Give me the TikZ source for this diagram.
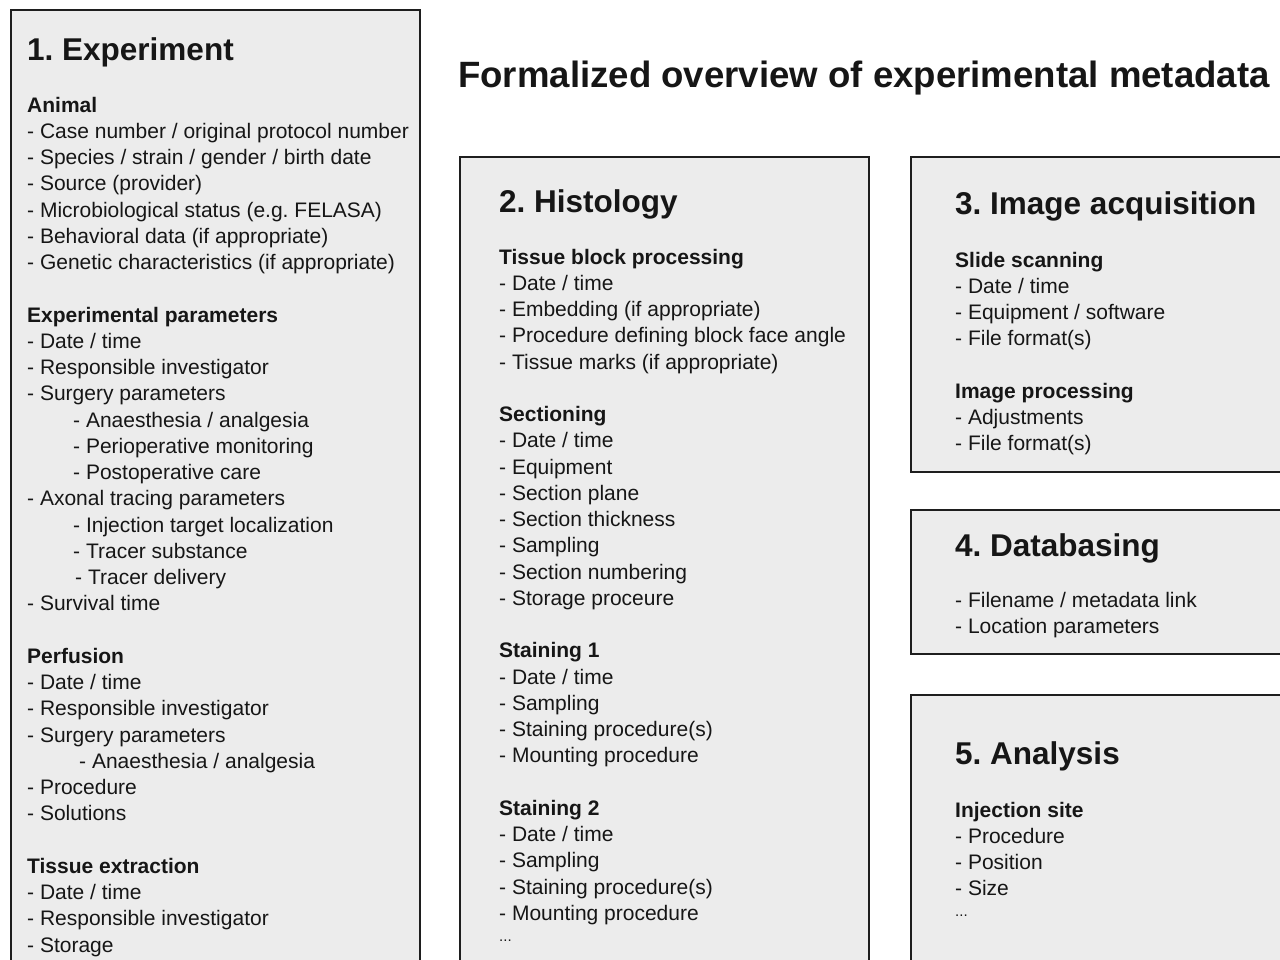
\documentclass[tikz,border=0pt]{standalone}
\usepackage{fontspec}
\setmainfont{Liberation Sans}
\frenchspacing
\definecolor{panelfill}{RGB}{236,236,236}
\definecolor{linecol}{RGB}{30,30,30}
\definecolor{textcol}{RGB}{22,22,22}
\tikzset{
  panel/.style={draw=linecol, line width=2.6pt, fill=panelfill},
  txt/.style={anchor=base west, inner sep=0pt, text=textcol, font=\fontsize{21}{25}\selectfont},
  head/.style={txt, font=\fontsize{21}{25}\selectfont\bfseries},
  ptitle/.style={txt, font=\fontsize{31.5}{36}\selectfont\bfseries},
  bigtitle/.style={txt, font=\fontsize{36.6}{40}\selectfont\bfseries},
  dots/.style={txt, font=\fontsize{15}{18}\selectfont},
}
\begin{document}
\begin{tikzpicture}[x=1pt,y=-1pt]
\useasboundingbox (0,0) rectangle (1280,959);
\clip (0,0) rectangle (1280,959);
\fill[white] (0,0) rectangle (1280,959);

% panels
\draw[panel] (11,10) rectangle (420,990);
\draw[panel] (460,157) rectangle (869,990);
\draw[panel] (911,157) rectangle (1300,472);
\draw[panel] (911,510) rectangle (1300,654);
\draw[panel] (911,695) rectangle (1300,990);

% main title
\node[bigtitle] (maintitle) at (458,87) {Formalized overview of experimental metadata};

% panel titles
\node[ptitle] (t1) at (27,60) {1. Experiment};
\node[ptitle] (t2) at (499,212) {2. Histology};
\node[ptitle] (t3) at (955,214) {3. Image acquisition};
\node[ptitle] (t4) at (955,556) {4. Databasing};
\node[ptitle] (t5) at (955,764) {5. Analysis};

% panel 1
\begin{scope}[shift={(27,112)}, y=-26.25pt]
\node[head] (a0) at (0,0) {Animal};
\node[txt] (a1) at (0,1) {- Case number / original protocol number};
\node[txt] (a2) at (0,2) {- Species / strain / gender / birth date};
\node[txt] (a3) at (0,3) {- Source (provider)};
\node[txt] (a4) at (0,4) {- Microbiological status (e.g. FELASA)};
\node[txt] (a5) at (0,5) {- Behavioral data (if appropriate)};
\node[txt] (a6) at (0,6) {- Genetic characteristics (if appropriate)};
\node[head] (a8) at (0,8) {Experimental parameters};
\node[txt] (a9) at (0,9) {- Date / time};
\node[txt] (a10) at (0,10) {- Responsible investigator};
\node[txt] (a11) at (0,11) {- Surgery parameters};
\node[txt] (a12) at (46,12) {- Anaesthesia / analgesia};
\node[txt] (a13) at (46,13) {- Perioperative monitoring};
\node[txt] (a14) at (46,14) {- Postoperative care};
\node[txt] (a15) at (0,15) {- Axonal tracing parameters};
\node[txt] (a16) at (46,16) {- Injection target localization};
\node[txt] (a17) at (46,17) {- Tracer substance};
\node[txt] (a18) at (48,18) {- Tracer delivery};
\node[txt] (a19) at (0,19) {- Survival time};
\node[head] (a21) at (0,21) {Perfusion};
\node[txt] (a22) at (0,22) {- Date / time};
\node[txt] (a23) at (0,23) {- Responsible investigator};
\node[txt] (a24) at (0,24) {- Surgery parameters};
\node[txt] (a25) at (52,25) {- Anaesthesia / analgesia};
\node[txt] (a26) at (0,26) {- Procedure};
\node[txt] (a27) at (0,27) {- Solutions};
\node[head] (a29) at (0,29) {Tissue extraction};
\node[txt] (a30) at (0,30) {- Date / time};
\node[txt] (a31) at (0,31) {- Responsible investigator};
\node[txt] (a32) at (0,32) {- Storage};
\end{scope}

% panel 2
\begin{scope}[shift={(499,264)}, y=-26.25pt]
\node[head] (b0) at (0,0) {Tissue block processing};
\node[txt] (b1) at (0,1) {- Date / time};
\node[txt] (b2) at (0,2) {- Embedding (if appropriate)};
\node[txt] (b3) at (0,3) {- Procedure defining block face angle};
\node[txt] (b4) at (0,4) {- Tissue marks (if appropriate)};
\node[head] (b6) at (0,6) {Sectioning};
\node[txt] (b7) at (0,7) {- Date / time};
\node[txt] (b8) at (0,8) {- Equipment};
\node[txt] (b9) at (0,9) {- Section plane};
\node[txt] (b10) at (0,10) {- Section thickness};
\node[txt] (b11) at (0,11) {- Sampling};
\node[txt] (b12) at (0,12) {- Section numbering};
\node[txt] (b13) at (0,13) {- Storage proceure};
\node[head] (b15) at (0,15) {Staining 1};
\node[txt] (b16) at (0,16) {- Date / time};
\node[txt] (b17) at (0,17) {- Sampling};
\node[txt] (b18) at (0,18) {- Staining procedure(s)};
\node[txt] (b19) at (0,19) {- Mounting procedure};
\node[head] (b21) at (0,21) {Staining 2};
\node[txt] (b22) at (0,22) {- Date / time};
\node[txt] (b23) at (0,23) {- Sampling};
\node[txt] (b24) at (0,24) {- Staining procedure(s)};
\node[txt] (b25) at (0,25) {- Mounting procedure};
\node[dots] (b26) at (0,25.8) {...};
\end{scope}

% panel 3
\begin{scope}[shift={(955,267)}, y=-26.25pt]
\node[head] (c0) at (0,0) {Slide scanning};
\node[txt] (c1) at (0,1) {- Date / time};
\node[txt] (c2) at (0,2) {- Equipment / software};
\node[txt] (c3) at (0,3) {- File format(s)};
\node[head] (c5) at (0,5) {Image processing};
\node[txt] (c6) at (0,6) {- Adjustments};
\node[txt] (c7) at (0,7) {- File format(s)};
\end{scope}

% panel 4
\begin{scope}[shift={(955,607)}, y=-26.25pt]
\node[txt] (d1) at (0,0) {- Filename / metadata link};
\node[txt] (d2) at (0,1) {- Location parameters};
\end{scope}

% panel 5
\begin{scope}[shift={(955,817)}, y=-26.25pt]
\node[head] (e0) at (0,0) {Injection site};
\node[txt] (e1) at (0,1) {- Procedure};
\node[txt] (e2) at (0,2) {- Position};
\node[txt] (e3) at (0,3) {- Size};
\node[dots] (e4) at (0,3.8) {...};
\end{scope}
\end{tikzpicture}
\end{document}
